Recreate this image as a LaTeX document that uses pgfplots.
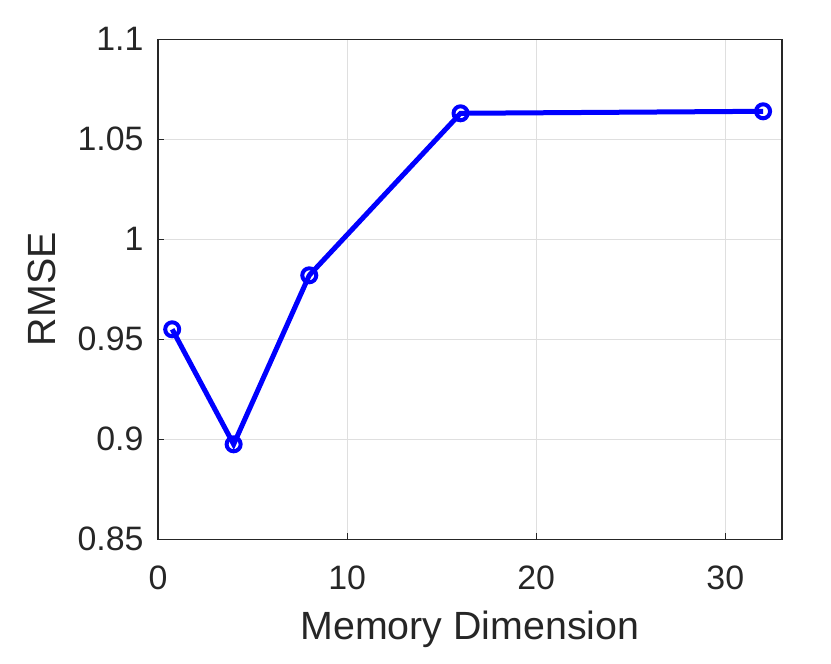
\documentclass[border=0pt]{standalone}
\usepackage{pgfplots}
\pgfplotsset{compat=1.18}
\usepackage{fontspec}
\setmainfont{Liberation Sans}
\definecolor{axgray}{rgb}{0.15,0.15,0.15}
\begin{document}
\begin{tikzpicture}
\begin{axis}[
  scale only axis,
  width=624bp, height=500bp,
  xmin=0, xmax=33, ymin=0.85, ymax=1.1,
  xtick={0,10,20,30},
  ytick={0.85,0.9,0.95,1,1.05,1.1},
  yticklabels={0.85,0.9,0.95,1,1.05,1.1},
  tick align=inside,
  major tick length=6bp,
  tick style={axgray, line width=1bp},
  axis line style={axgray, line width=1.2bp},
  grid=major,
  grid style={gray!25, line width=0.8bp},
  xtick pos=bottom, ytick pos=left,
  ticklabel style={font=\fontsize{34}{38}\selectfont, text=axgray},
  /pgf/number format/assume math mode=true,
  xticklabel style={yshift=-23bp},
  yticklabel style={xshift=-11bp},
  xlabel={Memory Dimension},
  ylabel={RMSE},
  label style={font=\fontsize{39.5}{42}\selectfont, text=axgray},
  xlabel style={yshift=-14bp},
  ylabel style={yshift=15bp},
]
\addplot[color=blue, line width=5bp, mark=o, mark size=7bp, mark options={line width=4bp, solid}]
  coordinates {(0.75,0.955) (4,0.8975) (8,0.982) (16,1.063) (32,1.064)};
\end{axis}
\path (current axis.south west) ++(-158bp,-124.7bp) rectangle ++(831bp,664bp);
\end{tikzpicture}
\end{document}
